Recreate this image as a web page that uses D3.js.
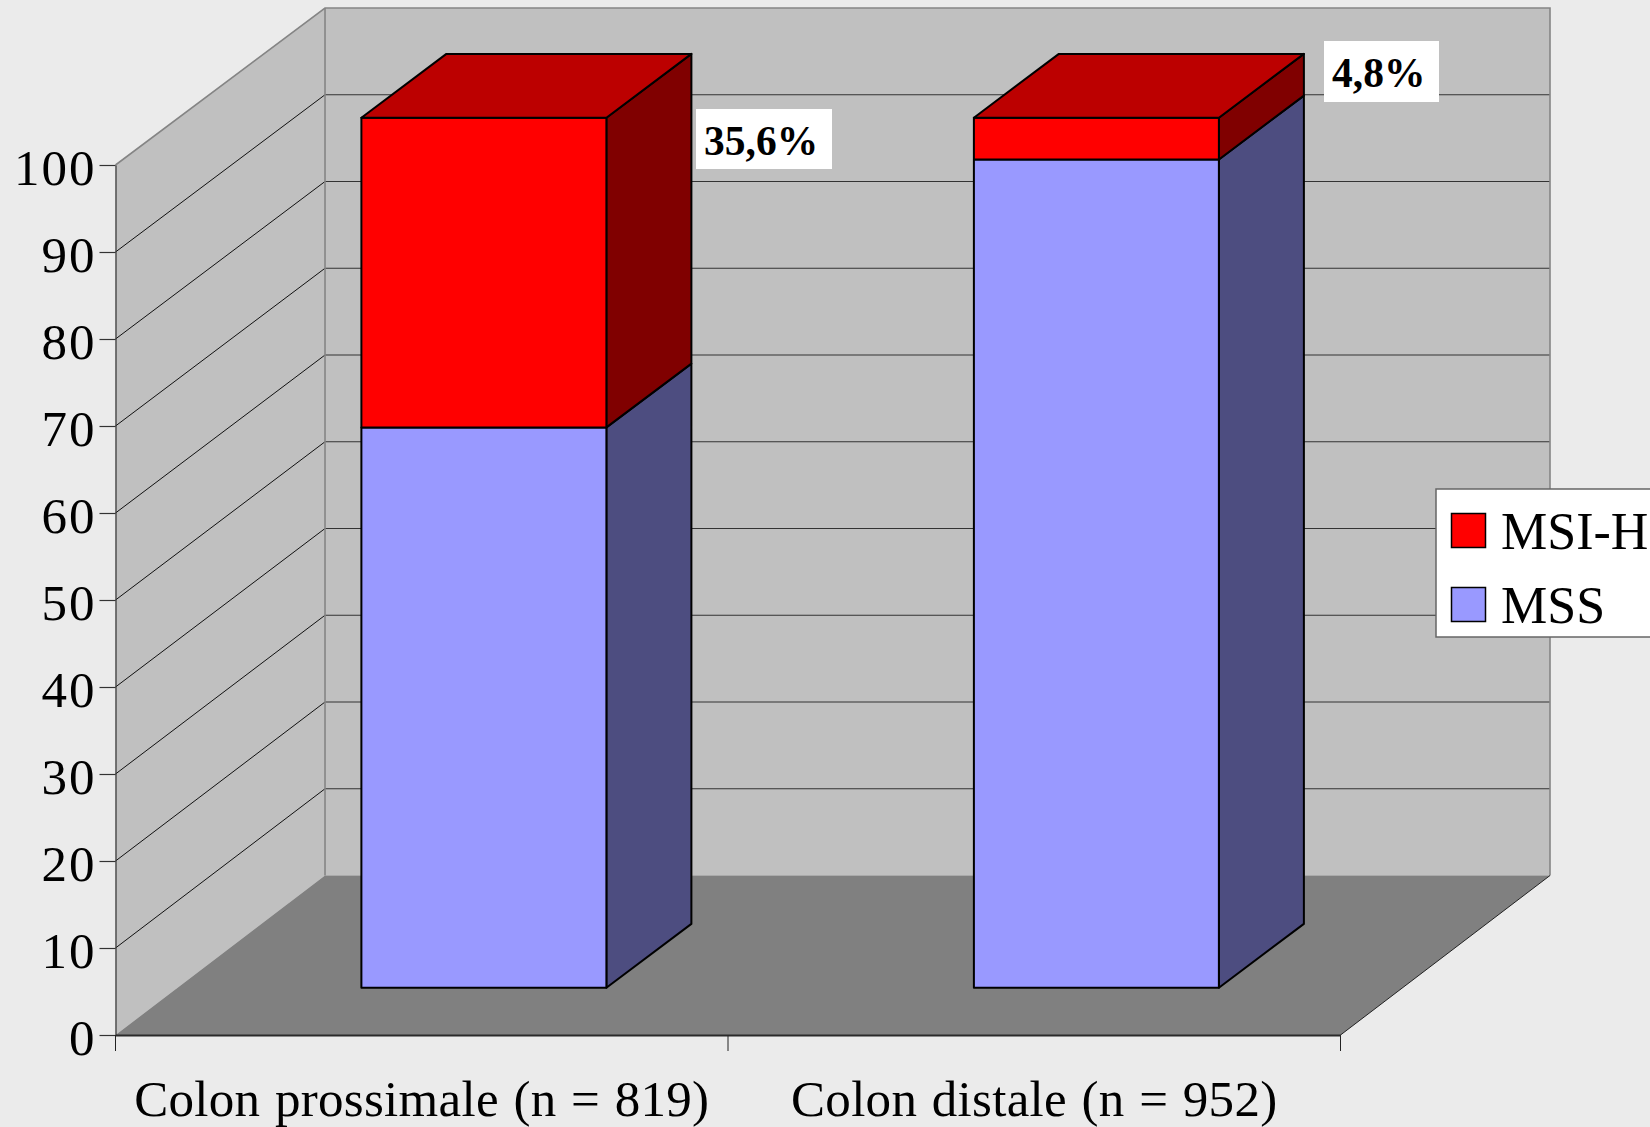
<!DOCTYPE html>
<html>
<head>
<meta charset="utf-8">
<script src="https://d3js.org/d3.v7.min.js"></script>
<style>
html, body { margin: 0; padding: 0; background: #ebebeb; overflow: hidden; }
svg { display: block; }
text { font-family: "Liberation Serif", serif; fill: #000; }
</style>
</head>
<body>
<svg></svg>
<script>
const CATEGORIES = ["Colon prossimale (n = 819)", "Colon distale (n = 952)"];
const MSS_VALUES = [64.4, 95.2];
const MSI_VALUES = [35.6, 4.8];
const SERIES_NAMES = ["MSI-H", "MSS"];
const VALUE_LABELS = ["35,6%", "4,8%"];
const Y_TICKS = [0, 10, 20, 30, 40, 50, 60, 70, 80, 90, 100];

const WIDTH = 1650;
const HEIGHT = 1127;

// front plane of the chart box and how far the back wall is shifted
const LEFT = 115.5, RIGHT = 1340.5, BOTTOM = 1035, TOP = 165;
const DEPTH_X = 209.5, DEPTH_Y = 159.5;
const WALL_TOP = 8;
// bars start at this depth (0 = front, 1 = back wall) and are this deep in px
const BAR_D0 = 0.2966;
const BAR_DX = 85, BAR_DY = 63.8;

const svg = d3.select('svg')
.attr('width', WIDTH)
.attr('height', HEIGHT)
;

const xScale = d3.scaleBand()
.domain(CATEGORIES)
.range([LEFT, RIGHT])
.paddingInner(0.6)
.paddingOuter(0.3)
;
const xOuter = d3.scaleBand().domain(CATEGORIES).range([LEFT, RIGHT]);
const yScale = d3.scaleLinear().domain([0, 100]).range([BOTTOM, TOP]);
const yBack = d3.scaleLinear().domain([0, 100]).range([BOTTOM - DEPTH_Y, WALL_TOP]);

// bar corners: front face and back face
const fx = (x) => x + BAR_D0 * DEPTH_X;
const fy = (v) => yScale(v) - BAR_D0 * DEPTH_Y;
const bx = (x) => fx(x) + BAR_DX;
const by = (v) => fy(v) - BAR_DY;
const pts = (list) => list.map(p => p.join(',')).join(' ');

//walls and floor
svg.append('polygon')
.attr('points', pts([[LEFT, TOP], [LEFT + DEPTH_X, WALL_TOP], [LEFT + DEPTH_X, yBack(0)], [LEFT, BOTTOM]]))
.attr('fill', '#c0c0c0')
;
svg.append('rect')
.attr('x', LEFT + DEPTH_X)
.attr('y', WALL_TOP)
.attr('width', RIGHT - LEFT)
.attr('height', yBack(0) - WALL_TOP)
.attr('fill', '#c0c0c0')
;
svg.append('polygon')
.attr('points', pts([[LEFT, BOTTOM], [LEFT + DEPTH_X, yBack(0)], [RIGHT + DEPTH_X, yBack(0)], [RIGHT, BOTTOM]]))
.attr('fill', '#808080')
;

//gridlines, side wall then back wall
const inner = Y_TICKS.filter(t => t > 0 && t < 100);
svg.selectAll('.side-grid')
.data(inner)
.enter()
.append('line')
.attr('x1', LEFT)
.attr('y1', d => yScale(d))
.attr('x2', LEFT + DEPTH_X)
.attr('y2', d => yBack(d))
.attr('stroke', '#111')
.attr('stroke-width', 1)
;
svg.selectAll('.back-grid')
.data(inner)
.enter()
.append('line')
.attr('x1', LEFT + DEPTH_X)
.attr('y1', d => yBack(d))
.attr('x2', RIGHT + DEPTH_X)
.attr('y2', d => yBack(d))
.attr('stroke', '#333')
.attr('stroke-width', 1.2)
;

//wall edges
svg.append('path')
.attr('d', `M${LEFT},${TOP}L${LEFT + DEPTH_X},${WALL_TOP}H${RIGHT + DEPTH_X}V${yBack(0)}`)
.attr('fill', 'none')
.attr('stroke', '#858585')
.attr('stroke-width', 1.6)
;
svg.append('line')
.attr('x1', LEFT + DEPTH_X)
.attr('y1', WALL_TOP)
.attr('x2', LEFT + DEPTH_X)
.attr('y2', yBack(0))
.attr('stroke', '#858585')
.attr('stroke-width', 1.6)
;
svg.append('line')
.attr('x1', RIGHT)
.attr('y1', BOTTOM)
.attr('x2', RIGHT + DEPTH_X)
.attr('y2', yBack(0))
.attr('stroke', '#222')
.attr('stroke-width', 1)
;

//axes
const yAxis = svg.append('g')
.attr('transform', `translate(${LEFT},0)`)
.call(d3.axisLeft(yScale).tickValues(Y_TICKS).tickSize(16).tickPadding(3).tickSizeOuter(0))
;
yAxis.select('.domain').attr('stroke', '#333').attr('stroke-width', 1.2);
yAxis.selectAll('.tick line').attr('stroke', '#333').attr('stroke-width', 1.2);
yAxis.selectAll('.tick text')
.style('font-family', '"Liberation Serif", serif')
.style('font-size', '51px')
.style('letter-spacing', '2px')
.attr('dy', '19px')
.attr('fill', '#000')
;

const xEdges = [LEFT].concat(CATEGORIES.map(c => xOuter(c) + xOuter.bandwidth()));
svg.selectAll('.x-tick')
.data(xEdges)
.enter()
.append('line')
.attr('x1', d => d)
.attr('x2', d => d)
.attr('y1', BOTTOM)
.attr('y2', BOTTOM + 16)
.attr('stroke', '#222')
.attr('stroke-width', 1)
;

const xAxis = svg.append('g')
.attr('transform', `translate(0,${BOTTOM})`)
.call(d3.axisBottom(xOuter).tickSize(0).tickPadding(45))
;
xAxis.select('.domain').attr('stroke', '#2a2a2a').attr('stroke-width', 2);
xAxis.selectAll('.tick text')
.style('font-family', '"Liberation Serif", serif')
.style('font-size', '51px')
.style('letter-spacing', '0.3px')
.style('word-spacing', '1.5px')
.attr('fill', '#000')
;

//bars: stack each category from 0
const segments = [];
CATEGORIES.forEach((c, i) => {
    segments.push({cat: c, from: 0, to: MSS_VALUES[i], front: '#9999ff', side: '#4d4d80', top: false});
    segments.push({cat: c, from: MSS_VALUES[i], to: MSS_VALUES[i] + MSI_VALUES[i], front: '#ff0000', side: '#800000', top: true});
});

const bars = svg.selectAll('.segment')
.data(segments)
.enter()
.append('g')
.attr('stroke', '#000')
.attr('stroke-width', 2)
.attr('stroke-linejoin', 'round')
;

bars.append('polygon')
.attr('points', d => {
    const xb = xScale(d.cat) + xScale.bandwidth();
    return pts([[fx(xb), fy(d.to)], [bx(xb), by(d.to)], [bx(xb), by(d.from)], [fx(xb), fy(d.from)]]);
})
.attr('fill', d => d.side)
;

bars.append('rect')
.attr('x', d => fx(xScale(d.cat)))
.attr('y', d => fy(d.to))
.attr('width', xScale.bandwidth())
.attr('height', d => fy(d.from) - fy(d.to))
.attr('fill', d => d.front)
;

bars.filter(d => d.top)
.append('polygon')
.attr('points', d => {
    const xa = xScale(d.cat), xb = xa + xScale.bandwidth();
    return pts([[fx(xa), fy(d.to)], [fx(xb), fy(d.to)], [bx(xb), by(d.to)], [bx(xa), by(d.to)]]);
})
.attr('fill', '#bc0000')
;

//value labels, white boxes next to the bars
const LABEL_BOXES = [
    {x: 696, y: 109, w: 136, h: 60},
    {x: 1324, y: 41, w: 115, h: 61}
];
const valueLabels = svg.selectAll('.value-label')
.data(VALUE_LABELS)
.enter()
.append('g')
.attr('transform', (d, i) => `translate(${LABEL_BOXES[i].x},${LABEL_BOXES[i].y})`)
;
valueLabels.append('rect')
.attr('width', (d, i) => LABEL_BOXES[i].w)
.attr('height', (d, i) => LABEL_BOXES[i].h)
.attr('fill', '#fff')
;
valueLabels.append('text')
.text(d => d)
.attr('x', 8)
.attr('y', 46)
.style('font-size', '41.5px')
.style('font-weight', 'bold')
;

//legend
const legend = svg.append('g').attr('transform', 'translate(1436,489)');
legend.append('rect')
.attr('width', 230)
.attr('height', 148)
.attr('fill', '#fff')
.attr('stroke', '#666')
.attr('stroke-width', 1.5)
;
const legendColor = d3.scaleOrdinal().domain(SERIES_NAMES).range(['#ff0000', '#9999ff']);
const legendRow = d3.scalePoint().domain(SERIES_NAMES).range([24, 98]);
legend.selectAll('.swatch')
.data(SERIES_NAMES)
.enter()
.append('rect')
.attr('x', 15.5)
.attr('y', d => legendRow(d) + 0.5)
.attr('width', 34)
.attr('height', 34)
.attr('fill', d => legendColor(d))
.attr('stroke', '#000')
.attr('stroke-width', 1.5)
;
legend.selectAll('.legend-label')
.data(SERIES_NAMES)
.enter()
.append('text')
.text(d => d)
.attr('x', 65)
.attr('y', d => legendRow(d) + 36)
.style('font-size', '52px')
;
</script>
</body>
</html>
